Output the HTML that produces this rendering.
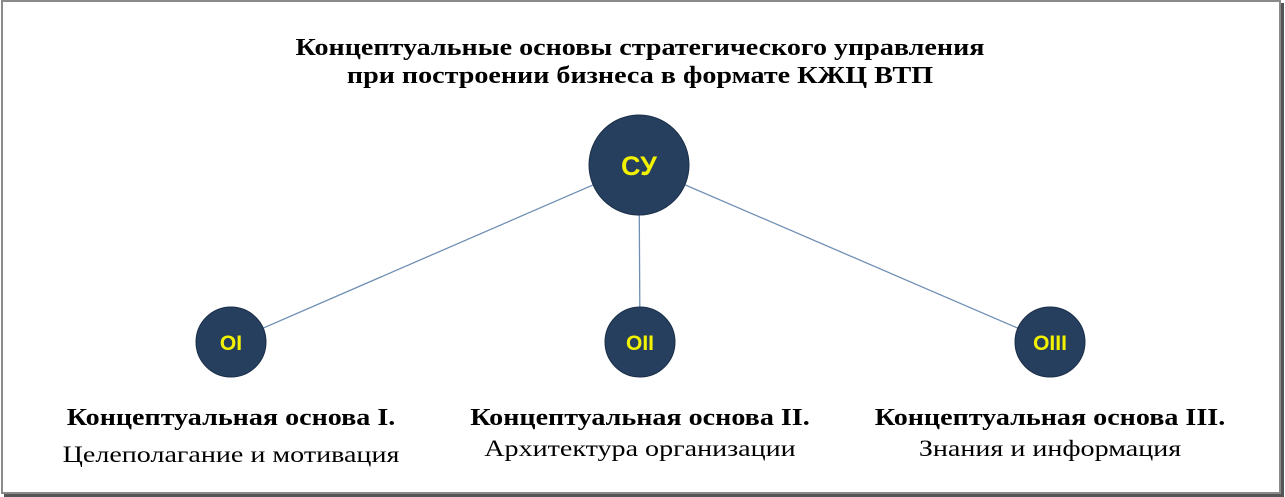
<!DOCTYPE html>
<html><head><meta charset="utf-8"><style>
html,body{margin:0;padding:0;background:#fff;}
body{width:1285px;height:497px;position:relative;overflow:hidden;font-family:"Liberation Serif",serif;}
.frame{position:absolute;left:1px;top:0px;width:1276px;height:490px;border:2px solid #8a8a8a;box-shadow:3px 3px 0 #555;}
.t{position:absolute;white-space:nowrap;text-align:center;color:#000;transform-origin:center center;}
.b{font-weight:bold;font-size:24px;transform:scaleX(1.17);}
.n{font-size:23px;transform:scaleX(1.22);}
svg{position:absolute;left:0;top:0;}
</style></head><body>
<div class="frame"></div>
<svg width="1285" height="497">
<g stroke="#6f8fb5" stroke-width="1.3">
<line x1="639" y1="165" x2="231" y2="342"/>
<line x1="639" y1="165" x2="640" y2="342"/>
<line x1="639" y1="165" x2="1050" y2="342"/>
</g>
<g fill="#263f5f" stroke="#1b2f48" stroke-width="1">
<circle cx="639" cy="165" r="50"/>
<circle cx="231" cy="342" r="35"/>
<circle cx="640" cy="342" r="35"/>
<circle cx="1050" cy="342" r="35"/>
</g>
<g fill="#f2f200" font-family="Liberation Sans, sans-serif" font-weight="bold" text-anchor="middle">
<text x="639" y="175" font-size="27">СУ</text>
<text x="231" y="350" font-size="21">OI</text>
<text x="640" y="350" font-size="21">OII</text>
<text x="1050" y="350" font-size="21">OIII</text>
</g>
</svg>
<div class="t b" style="left:0;width:1280px;top:34px;line-height:28px;">Концептуальные основы стратегического управления<br>при построении бизнеса в формате КЖЦ ВТП</div>
<div class="t b" style="left:31px;width:400px;top:405px;">Концептуальная основа I.</div>
<div class="t n" style="left:31px;width:400px;top:442px;">Целеполагание и мотивация</div>
<div class="t b" style="left:440px;width:400px;top:405px;">Концептуальная основа II.</div>
<div class="t n" style="left:440px;width:400px;top:436px;">Архитектура организации</div>
<div class="t b" style="left:850px;width:400px;top:405px;">Концептуальная основа III.</div>
<div class="t n" style="left:850px;width:400px;top:436px;">Знания и информация</div>
</body></html>
